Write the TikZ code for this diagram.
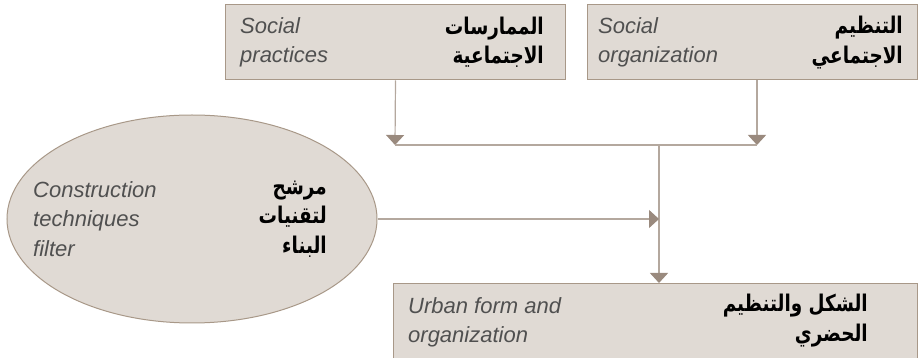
\documentclass[tikz,border=0pt]{standalone}
\usepackage{fontspec}
\setmainfont{Liberation Sans}
\newfontfamily\arabicfont[Script=Arabic,FakeStretch=0.8]{DejaVu Sans}
\TeXXeTstate=1
\usetikzlibrary{arrows.meta,shapes.geometric,calc}
\definecolor{boxfill}{HTML}{E0DAD4}
\definecolor{boxline}{HTML}{A89888}
\definecolor{conline}{HTML}{B4A89E}
\definecolor{headcol}{HTML}{9A8A7E}
\definecolor{entext}{HTML}{505050}
\begin{document}
\begin{tikzpicture}[x=1pt,y=-1pt,
  box/.style={draw=boxline, fill=boxfill, line width=1pt, inner sep=0pt},
  en/.style={text=entext, font=\fontsize{22}{29.5}\selectfont\itshape, align=left, inner sep=0pt},
  ar/.style={text=black, font=\fontsize{23}{29.5}\selectfont\arabicfont\bfseries, align=right, inner sep=0pt},
  con/.style={draw=conline, line width=1.2pt, -{Triangle[width=18pt,length=10pt,color=headcol]}},
  plain/.style={draw=conline, line width=1.2pt}]
\useasboundingbox (0,0) rectangle (919,358);
\begin{scope}
\clip (0,0) rectangle (919,358);
% boxes
\node[box, minimum width=340pt, minimum height=75pt, anchor=north west] (sp) at (225,4.5) {};
\node[box, minimum width=330pt, minimum height=75pt, anchor=north west] (so) at (587,4.5) {};
\node[box, ellipse, minimum width=370pt, minimum height=208pt] (ef) at (192,219) {};
\node[box, minimum width=524pt, minimum height=100pt, anchor=north west] (uf) at (393,283) {};
% texts
\node[en, anchor=west] (spen) at ($(sp.west)+(15,0)$) {Social\\practices};
\node[ar, anchor=east] (spar) at ($(sp.east)+(-22,0)$) {\beginR الممارسات\endR\\\beginR الاجتماعية\endR};
\node[en, anchor=west] (soen) at ($(so.west)+(11,0)$) {Social\\organization};
\node[ar, anchor=east] (soar) at ($(so.east)+(-15,0)$) {\beginR التنظيم\endR\\\beginR الاجتماعي\endR};
\node[en, anchor=west] (efen) at (33,219) {Construction\\techniques\\filter};
\node[ar, anchor=east] (efar) at (327,219) {\beginR مرشح\endR\\\beginR لتقنيات\endR\\\beginR البناء\endR};
\node[en, anchor=north west] (ufen) at (408,297) {Urban form and\\organization};
\node[ar, anchor=north east] (ufar) at (868,294) {\beginR الشكل والتنظيم\endR\\\beginR الحضري\endR};
% connectors
\coordinate (j1) at (395,145);
\coordinate (j2) at (757,145);
\coordinate (jm) at (659,145);
\draw[con] (sp.south) -- (j1);
\draw[con] (so.south -| j2) -- (j2);
\draw[plain] (j1) -- (j2);
\draw[con] (jm) -- (uf.north -| jm);
\draw[con] (ef.east) -- (ef.east -| jm);
\end{scope}
\end{tikzpicture}
\end{document}
